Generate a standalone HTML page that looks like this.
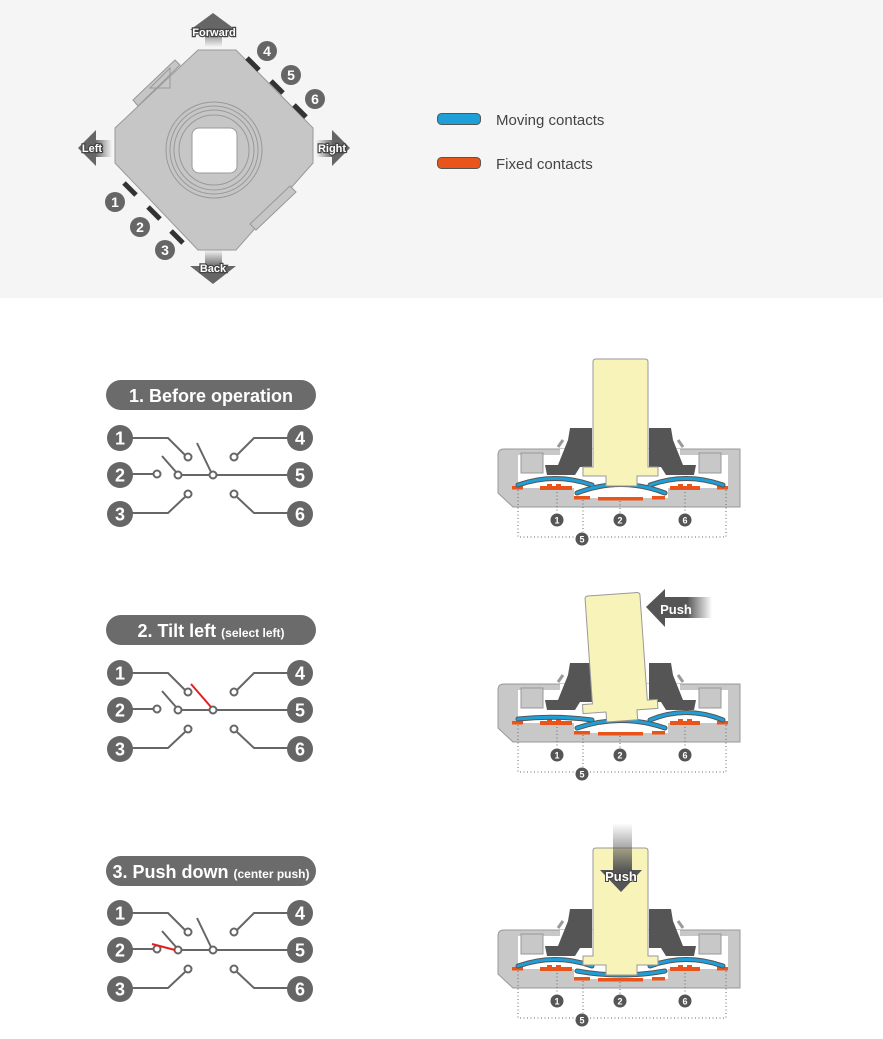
<!DOCTYPE html>
<html><head><meta charset="utf-8"><style>
html,body{margin:0;padding:0;background:#fff;}
svg{display:block;font-family:"Liberation Sans",sans-serif;}
</style></head><body>
<svg width="883" height="1039" viewBox="0 0 883 1039" xmlns="http://www.w3.org/2000/svg">
<defs>
<linearGradient id="gU" x1="0" y1="0" x2="0" y2="1"><stop offset="0" stop-color="#666"/><stop offset="1" stop-color="#666" stop-opacity="0"/></linearGradient>
<linearGradient id="gD" x1="0" y1="1" x2="0" y2="0"><stop offset="0" stop-color="#666"/><stop offset="1" stop-color="#666" stop-opacity="0"/></linearGradient>
<linearGradient id="gL" x1="0" y1="0" x2="1" y2="0"><stop offset="0" stop-color="#666"/><stop offset="1" stop-color="#666" stop-opacity="0"/></linearGradient>
<linearGradient id="gR" x1="1" y1="0" x2="0" y2="0"><stop offset="0" stop-color="#666"/><stop offset="1" stop-color="#666" stop-opacity="0"/></linearGradient>
<linearGradient id="gP" x1="0" y1="0" x2="1" y2="0"><stop offset="0" stop-color="#555"/><stop offset="0.5" stop-color="#555"/><stop offset="1" stop-color="#555" stop-opacity="0"/></linearGradient>
<linearGradient id="gPD" x1="0" y1="1" x2="0" y2="0"><stop offset="0" stop-color="#555"/><stop offset="1" stop-color="#555" stop-opacity="0"/></linearGradient>

<g id="base">
  <path d="M498,455 Q498,449 504,449 L740,449 L740,507 L513,507 L498,493 Z" fill="#c8c8c8" stroke="#999" stroke-width="1"/>
  <path d="M518,455 L560,455 L560,449 L680,449 L680,455 L728,455 L728,488 L668,488 L668,498 L574,498 L574,488 L518,488 Z" fill="#fff"/>
  <rect x="521" y="453" width="22" height="20" fill="#c8c8c8" stroke="#999"/>
  <rect x="699" y="453" width="22" height="20" fill="#c8c8c8" stroke="#999"/>
  <path d="M558,447 L563,440" stroke="#999" stroke-width="3"/>
  <path d="M683,447 L678,440" stroke="#999" stroke-width="3"/>
  <polygon points="570,428 592,428 592,467 580,467 575,475 547,475 545,465 558,465 568,440" fill="#555"/>
  <polygon points="671,428 649,428 649,467 661,467 666,475 694,475 696,465 683,465 673,440" fill="#555"/>
  <rect x="512" y="486" width="11" height="3.5" fill="#e8541a"/>
  <rect x="540" y="486" width="32" height="4" fill="#e8541a"/><rect x="547" y="484" width="5" height="3" fill="#e8541a"/><rect x="556" y="484" width="5" height="3" fill="#e8541a"/>
  <rect x="574" y="496" width="16" height="3.5" fill="#e8541a"/>
  <rect x="598" y="497" width="45" height="3.5" fill="#e8541a"/>
  <rect x="652" y="496" width="13" height="3.5" fill="#e8541a"/>
  <rect x="670" y="486" width="30" height="4" fill="#e8541a"/><rect x="678" y="484" width="5" height="3" fill="#e8541a"/><rect x="687" y="484" width="5" height="3" fill="#e8541a"/>
  <rect x="717" y="486" width="11" height="3.5" fill="#e8541a"/>
  <g stroke="#666" stroke-width="1" stroke-dasharray="1,2.5" fill="none">
    <path d="M518,490 L518,537 L726,537 L726,490"/>
    <path d="M583,500 L583,532"/>
    <path d="M557,492 L557,513"/><path d="M620,501 L620,513"/><path d="M685,492 L685,513"/>
  </g>
  <g fill="#555"><circle cx="557" cy="520" r="6.5"/><circle cx="620" cy="520" r="6.5"/><circle cx="685" cy="520" r="6.5"/><circle cx="582" cy="539" r="6.5"/></g>
  <g fill="#fff" font-size="9" font-weight="bold" text-anchor="middle">
    <text x="557" y="523.5">1</text><text x="620" y="523.5">2</text><text x="685" y="523.5">6</text><text x="582" y="542.5">5</text>
  </g>
</g>
<path id="stem" d="M593,362 Q593,359 596,359 L645,359 Q648,359 648,362 L648,467 L658,467 L658,476 L637,476 L637,486 L606,486 L606,476 L583,476 L583,467 L593,467 Z" fill="#f7f3b9" stroke="#999" stroke-width="1"/>
</defs>

<!-- top panel -->
<rect x="0" y="0" width="883" height="298" fill="#f5f5f5"/>
<!-- arrows -->
<polygon points="213,13 236,30 190,30" fill="#666"/><rect x="205" y="29" width="17" height="18" fill="url(#gU)"/>
<polygon points="213,284 236,266 190,266" fill="#666"/><rect x="205" y="250" width="17" height="17" fill="url(#gD)"/>
<polygon points="78,148 96,130 96,166" fill="#666"/><rect x="95" y="140" width="17" height="17" fill="url(#gL)"/>
<polygon points="350,148 332,130 332,166" fill="#666"/><rect x="316" y="140" width="17" height="17" fill="url(#gR)"/>
<!-- body -->
<polygon points="198,50 236,50 313,128 313,163 236,250 198,250 115,163 115,128" fill="#c6c6c6" stroke="#999"/>
<polygon points="133,100 175,60 180,65 138,106" fill="#c6c6c6" stroke="#999"/>
<polygon points="150,88 170,68 170,88" fill="none" stroke="#999"/>
<polygon points="250,224 290,186 296,192 256,230" fill="#c6c6c6" stroke="#999"/>
<g fill="none" stroke="#999"><circle cx="214" cy="150" r="48"/><circle cx="214" cy="150" r="44"/><circle cx="214" cy="150" r="40"/><circle cx="214" cy="150" r="35"/></g>
<rect x="192" y="128" width="45" height="45" rx="7" fill="#fff" stroke="#999"/>
<g stroke="#333" stroke-width="5">
  <line x1="247" y1="58" x2="259" y2="70"/><line x1="271" y1="81" x2="283" y2="93"/><line x1="294" y1="105" x2="306" y2="117"/>
  <line x1="124" y1="183" x2="136" y2="195"/><line x1="148" y1="207" x2="160" y2="219"/><line x1="171" y1="231" x2="183" y2="243"/>
</g>
<g fill="#666"><circle cx="267" cy="51" r="10"/><circle cx="291" cy="75" r="10"/><circle cx="315" cy="99" r="10"/><circle cx="115" cy="202" r="10"/><circle cx="140" cy="227" r="10"/><circle cx="165" cy="250" r="10"/></g>
<g fill="#fff" font-size="14" font-weight="bold" text-anchor="middle">
  <text x="267" y="56">4</text><text x="291" y="80">5</text><text x="315" y="104">6</text><text x="115" y="207">1</text><text x="140" y="232">2</text><text x="165" y="255">3</text>
</g>
<g fill="#fff" stroke="#444" stroke-width="2.5" paint-order="stroke" font-size="11" font-weight="bold" text-anchor="middle">
  <text x="214" y="36">Forward</text><text x="213" y="272">Back</text><text x="92" y="152">Left</text><text x="332" y="152">Right</text>
</g>
<!-- legend -->
<rect x="437.5" y="113.5" width="43" height="11" rx="4" fill="#1e9fd8" stroke="#555"/>
<rect x="437.5" y="157.5" width="43" height="11" rx="4" fill="#e8541a" stroke="#555"/>
<g fill="#444" font-size="15"><text x="496" y="125">Moving contacts</text><text x="496" y="169">Fixed contacts</text></g>

<!-- schematics -->
<g id="sch1">
  <g stroke="#666" stroke-width="2" fill="none">
    <path d="M120,438 L168,438 L185,455"/>
    <path d="M120,474 L154,474"/>
    <path d="M120,513 L168,513 L185,497"/>
    <path d="M162,456 L176,472"/>
    <path d="M181,475 L210,475"/>
    <path d="M216,475 L300,475"/>
    <path d="M300,438 L254,438 L237,455"/>
    <path d="M300,513 L254,513 L237,497"/>
  </g>
  <g stroke="#666" stroke-width="2" fill="#fff">
    <circle cx="188" cy="457" r="3.5"/><circle cx="157" cy="474" r="3.5"/><circle cx="178" cy="475" r="3.5"/><circle cx="213" cy="475" r="3.5"/>
    <circle cx="188" cy="494" r="3.5"/><circle cx="234" cy="457" r="3.5"/><circle cx="234" cy="494" r="3.5"/>
  </g>
  <g fill="#666"><circle cx="120" cy="438" r="13"/><circle cx="120" cy="475" r="13"/><circle cx="120" cy="514" r="13"/><circle cx="300" cy="438" r="13"/><circle cx="300" cy="475" r="13"/><circle cx="300" cy="514" r="13"/></g>
  <g fill="#fff" font-size="18" font-weight="bold" text-anchor="middle">
    <text x="120" y="444.5">1</text><text x="120" y="481.5">2</text><text x="120" y="520.5">3</text><text x="300" y="444.5">4</text><text x="300" y="481.5">5</text><text x="300" y="520.5">6</text>
  </g>
</g>
<path d="M197,443 L211,472" stroke="#666" stroke-width="2"/>
<use href="#sch1" transform="translate(0,235)"/>
<path d="M191,684 L211,707" stroke="#e02020" stroke-width="2"/>
<use href="#sch1" transform="translate(0,475)"/>
<path d="M197,918 L211,947" stroke="#666" stroke-width="2"/>
<path d="M152,944 L175,950" stroke="#e02020" stroke-width="2"/>

<!-- pills -->
<rect x="106" y="380" width="210" height="30" rx="15" fill="#6b6b6b"/>
<text x="211" y="402" fill="#fff" font-size="18" font-weight="bold" text-anchor="middle">1. Before operation</text>
<rect x="106" y="615" width="210" height="30" rx="15" fill="#6b6b6b"/>
<text x="211" y="637" fill="#fff" font-weight="bold" text-anchor="middle"><tspan font-size="18">2. Tilt left </tspan><tspan font-size="12">(select left)</tspan></text>
<rect x="106" y="856" width="210" height="30" rx="15" fill="#6b6b6b"/>
<text x="211" y="878" fill="#fff" font-weight="bold" text-anchor="middle"><tspan font-size="18">3. Push down </tspan><tspan font-size="12">(center push)</tspan></text>

<!-- section 1 -->
<use href="#base"/>
<g stroke-linecap="round" fill="none">
  <g stroke="#555" stroke-width="5"><path d="M518,485 Q555,472 592,485"/><path d="M577,493 Q621,476 665,493"/><path d="M650,485 Q686,472 723,485"/></g>
  <g stroke="#1e9fd8" stroke-width="3"><path d="M518,485 Q555,472 592,485"/><path d="M577,493 Q621,476 665,493"/><path d="M650,485 Q686,472 723,485"/></g>
</g>
<use href="#stem"/>

<!-- section 2 -->
<g transform="translate(0,235)">
  <use href="#base"/>
  <g stroke-linecap="round" fill="none">
    <g stroke="#555" stroke-width="5"><path d="M518,484 Q555,480 592,485"/><path d="M577,493 Q621,478 665,493"/><path d="M650,485 Q686,470 723,485"/></g>
    <g stroke="#1e9fd8" stroke-width="3"><path d="M518,484 Q555,480 592,485"/><path d="M577,493 Q621,478 665,493"/><path d="M650,485 Q686,470 723,485"/></g>
  </g>
  <use href="#stem" transform="rotate(-4 620 476)"/>
</g>
<rect x="662" y="597" width="50" height="21" fill="url(#gP)"/>
<polygon points="646,607 665,589 665,627" fill="#555"/>
<text x="676" y="614" fill="#fff" font-size="13" font-weight="bold" text-anchor="middle">Push</text>

<!-- section 3 -->
<g transform="translate(0,481)">
  <use href="#base"/>
  <g stroke-linecap="round" fill="none">
    <g stroke="#555" stroke-width="5"><path d="M518,485 Q555,472 592,485"/><path d="M577,490 Q621,498 665,490"/><path d="M650,485 Q686,472 723,485"/></g>
    <g stroke="#1e9fd8" stroke-width="3"><path d="M518,485 Q555,472 592,485"/><path d="M577,490 Q621,498 665,490"/><path d="M650,485 Q686,472 723,485"/></g>
  </g>
  <use href="#stem" transform="translate(0,8)"/>
</g>
<rect x="613" y="823" width="19" height="48" fill="url(#gPD)"/>
<polygon points="600,870 642,870 621,892" fill="#555"/>
<text x="621" y="881" fill="#fff" stroke="#444" stroke-width="2" paint-order="stroke" font-size="13" font-weight="bold" text-anchor="middle">Push</text>
</svg>
</body></html>
